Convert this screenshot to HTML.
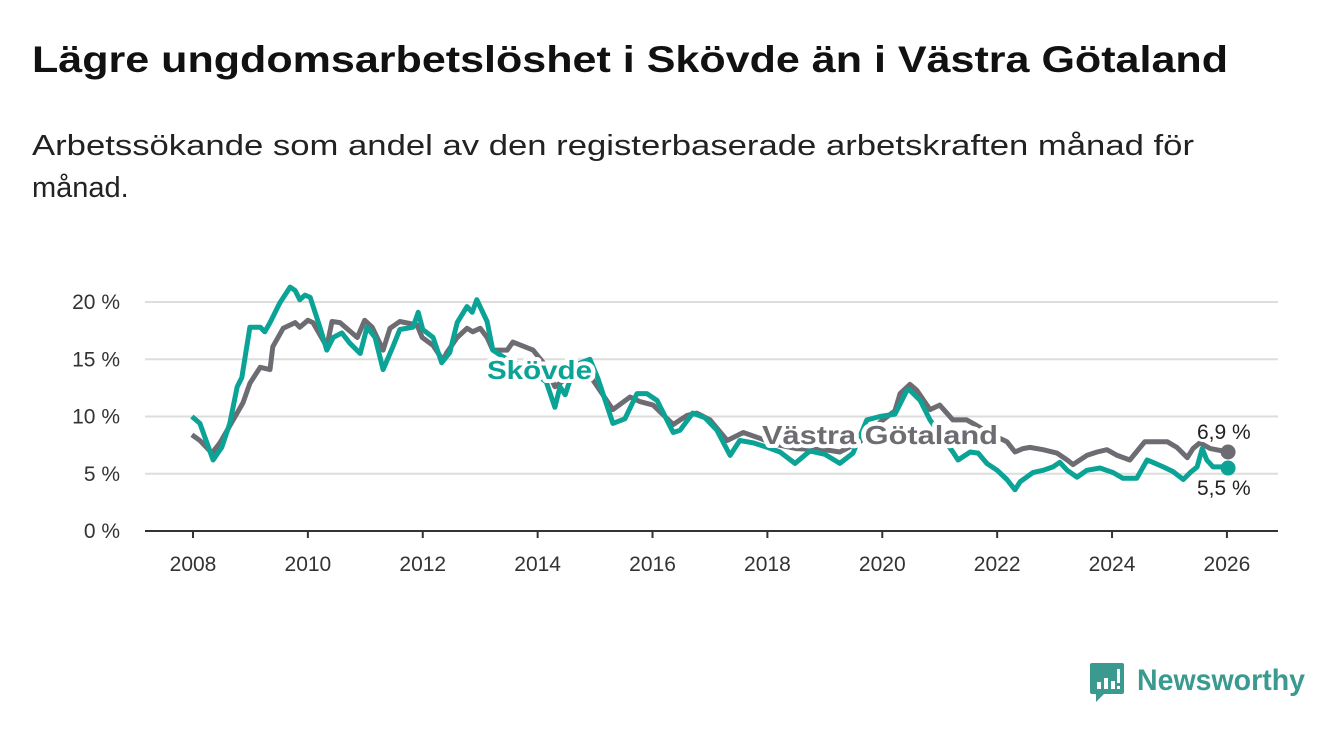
<!DOCTYPE html>
<html><head><meta charset="utf-8"><style>
body{margin:0;background:#fff;width:1340px;height:734px;overflow:hidden;font-family:"Liberation Sans",sans-serif}
svg{display:block}
</style></head><body>
<svg id="chart" width="1340" height="734" viewBox="0 0 1340 734">
<text x="32" y="72" font-size="37" font-weight="bold" fill="#111" textLength="1196" lengthAdjust="spacingAndGlyphs">Lägre ungdomsarbetslöshet i Skövde än i Västra Götaland</text>
<text x="32" y="155" font-size="29" fill="#222" textLength="1162" lengthAdjust="spacingAndGlyphs">Arbetssökande som andel av den registerbaserade arbetskraften månad för</text>
<text x="32" y="197" font-size="29" fill="#222">månad.</text>
<g id="grid"></g><g id="axes"></g><g id="series"></g><g id="labels"></g>
<g>
<path d="M1092 663 h30 a2 2 0 0 1 2 2 v27 a2 2 0 0 1 -2 2 h-18 l-8 8 v-8 h-4 a2 2 0 0 1 -2 -2 v-27 a2 2 0 0 1 2 -2z" fill="#3a9a8f"/>
<rect x="1097" y="682" width="4" height="7" fill="#fff"/><rect x="1104" y="678" width="4" height="11" fill="#fff"/><rect x="1111" y="681" width="4" height="8" fill="#fff"/><rect x="1117" y="669" width="3" height="14" fill="#fff"/><rect x="1117" y="686" width="3" height="3" fill="#fff"/>
<text x="1137" y="690" font-size="30" font-weight="bold" fill="#3a9a8f" textLength="168" lengthAdjust="spacingAndGlyphs">Newsworthy</text>
</g>
</svg>
<script>
const skovdeDates=[2007.98,2008.12,2008.35,2008.50,2008.64,2008.77,2008.85,2008.99,2009.17,2009.25,2009.34,2009.51,2009.69,2009.78,2009.86,2009.95,2010.04,2010.21,2010.33,2010.44,2010.59,2010.73,2010.91,2011.03,2011.17,2011.31,2011.48,2011.60,2011.83,2011.92,2012.00,2012.18,2012.33,2012.47,2012.60,2012.77,2012.86,2012.94,2013.12,2013.22,2013.40,2013.70,2013.95,2014.15,2014.30,2014.39,2014.48,2014.65,2014.91,2015.05,2015.31,2015.52,2015.73,2015.90,2016.08,2016.36,2016.48,2016.70,2016.91,2017.12,2017.35,2017.52,2017.75,2018.00,2018.22,2018.48,2018.74,2019.00,2019.26,2019.49,2019.73,2019.96,2020.22,2020.43,2020.48,2020.66,2020.83,2021.00,2021.23,2021.32,2021.53,2021.67,2021.82,2022.00,2022.17,2022.31,2022.40,2022.62,2022.80,2022.97,2023.09,2023.22,2023.39,2023.56,2023.79,2024.02,2024.19,2024.43,2024.61,2024.71,2024.89,2025.06,2025.24,2025.36,2025.48,2025.57,2025.65,2025.76,2025.93,2026.02];
const skovdeValues=[10.0,9.4,6.2,7.3,9.4,12.6,13.4,17.8,17.8,17.4,18.2,19.9,21.3,21.0,20.2,20.6,20.4,17.8,15.8,16.9,17.3,16.4,15.5,17.8,16.9,14.1,16.1,17.6,17.8,19.1,17.6,16.9,14.7,15.6,18.2,19.6,19.1,20.2,18.3,15.8,15.2,14.5,13.8,13.0,10.8,12.6,11.9,14.5,15.0,13.3,9.4,9.8,12.0,12.0,11.4,8.6,8.8,10.3,9.9,8.8,6.6,7.9,7.7,7.3,6.9,5.9,7.0,6.7,5.9,6.8,9.7,10.0,10.2,12.3,12.3,11.4,9.7,8.5,6.9,6.2,6.9,6.8,5.9,5.3,4.5,3.6,4.3,5.1,5.3,5.6,6.0,5.3,4.7,5.3,5.5,5.1,4.6,4.6,6.2,6.0,5.6,5.2,4.5,5.1,5.6,7.2,6.2,5.6,5.6,5.5];
const vgDates=[2007.98,2008.12,2008.33,2008.47,2008.70,2008.87,2008.99,2009.17,2009.34,2009.39,2009.57,2009.78,2009.86,2010.00,2010.09,2010.33,2010.42,2010.56,2010.86,2010.99,2011.12,2011.31,2011.43,2011.60,2011.90,2011.99,2012.18,2012.35,2012.42,2012.60,2012.77,2012.87,2013.00,2013.12,2013.22,2013.47,2013.57,2013.92,2014.13,2014.30,2014.56,2014.96,2015.31,2015.61,2015.78,2016.01,2016.36,2016.60,2016.77,2017.00,2017.30,2017.58,2017.87,2018.20,2018.50,2019.00,2019.26,2019.61,2019.96,2020.22,2020.31,2020.48,2020.60,2020.83,2021.00,2021.23,2021.47,2021.58,2021.88,2022.17,2022.31,2022.45,2022.57,2022.80,2023.04,2023.22,2023.32,2023.56,2023.74,2023.91,2024.09,2024.31,2024.57,2024.96,2025.13,2025.31,2025.41,2025.53,2025.71,2026.02];
const vgValues=[8.4,7.9,6.8,7.7,9.7,11.2,12.9,14.3,14.1,16.1,17.7,18.2,17.8,18.4,18.2,16.1,18.3,18.2,16.9,18.4,17.8,15.8,17.7,18.3,18.0,16.9,16.2,14.9,15.6,16.9,17.7,17.4,17.7,16.9,15.8,15.8,16.5,15.8,14.5,12.6,13.5,13.2,10.6,11.7,11.3,11.0,9.3,10.1,10.3,9.7,7.9,8.6,8.1,7.5,7.2,7.1,6.9,7.8,9.5,10.5,12.0,12.8,12.3,10.6,11.0,9.7,9.7,9.4,8.5,7.8,6.9,7.2,7.3,7.1,6.8,6.2,5.8,6.6,6.9,7.1,6.6,6.2,7.8,7.8,7.3,6.4,7.2,7.7,7.2,6.9];
const yTicks=[0,5,10,15,20];
const xTicks=[2008,2010,2012,2014,2016,2018,2020,2022,2024,2026];
const NS='http://www.w3.org/2000/svg';
const X=y=>193+(y-2008)*57.44;
const Y=v=>531-v*11.45;
function mk(tag,attrs,parent,text){const e=document.createElementNS(NS,tag);for(const k in attrs)e.setAttribute(k,attrs[k]);if(text!==undefined)e.textContent=text;document.getElementById(parent).appendChild(e);return e;}
yTicks.forEach(t=>{
  if(t>0){const g=mk('line',{x1:145,x2:1278,y1:Y(t),y2:Y(t),stroke:'#ddd','stroke-width':2},'grid');
  
  }
  const l=mk('text',{x:120,y:Y(t)+7,'text-anchor':'end','font-size':21,fill:'#333'},'axes',t+' %');
  
  
});
const ax=mk('line',{x1:145,x2:1278,y1:531,y2:531,stroke:'#333','stroke-width':2},'axes');


xTicks.forEach(t=>{
  const tk=mk('line',{x1:X(t),x2:X(t),y1:531,y2:538,stroke:'#333','stroke-width':2},'axes');
  
  
  const l=mk('text',{x:X(t),y:571,'text-anchor':'middle','font-size':21,fill:'#333'},'axes',String(t));
  
  
});
function line(d,v,c,name){
  const p=mk('polyline',{points:d.map((x,i)=>X(x).toFixed(1)+','+Y(v[i]).toFixed(1)).join(' '),fill:'none',stroke:c,'stroke-width':5,'stroke-linejoin':'round'},'series');
  
  
  const n=d.length-1;
  const dot=mk('circle',{cx:X(d[n]),cy:Y(v[n]),r:7.5,fill:c},'series');
  
  
}
line(vgDates,vgValues,'#6d6c72','vastra-gotaland-line');
line(skovdeDates,skovdeValues,'#0aa396','skovde-line');
function lbl(x,y,t,c,name,size,bold,len){
  const a={x:x,y:y,'font-size':size,'font-weight':bold?'bold':'normal',fill:c,stroke:'#fff','stroke-width':bold?8:6,'paint-order':'stroke','stroke-linejoin':'round'};
  if(len){a.textLength=len;a.lengthAdjust='spacingAndGlyphs';}
  const e=mk('text',a,'labels',t);
  
  
}
lbl(487,379,'Skövde','#0aa396','skovde-label',26,true,105);
lbl(762,444,'Västra Götaland','#6d6c72','vastra-gotaland-label',26,true,236);
lbl(1197,439,(vgValues[vgValues.length-1]).toFixed(1).replace('.',',')+' %','#222','vastra-gotaland-end-value',21,false);
lbl(1197,495,(skovdeValues[skovdeValues.length-1]).toFixed(1).replace('.',',')+' %','#222','skovde-end-value',21,false);
</script>
</body></html>
